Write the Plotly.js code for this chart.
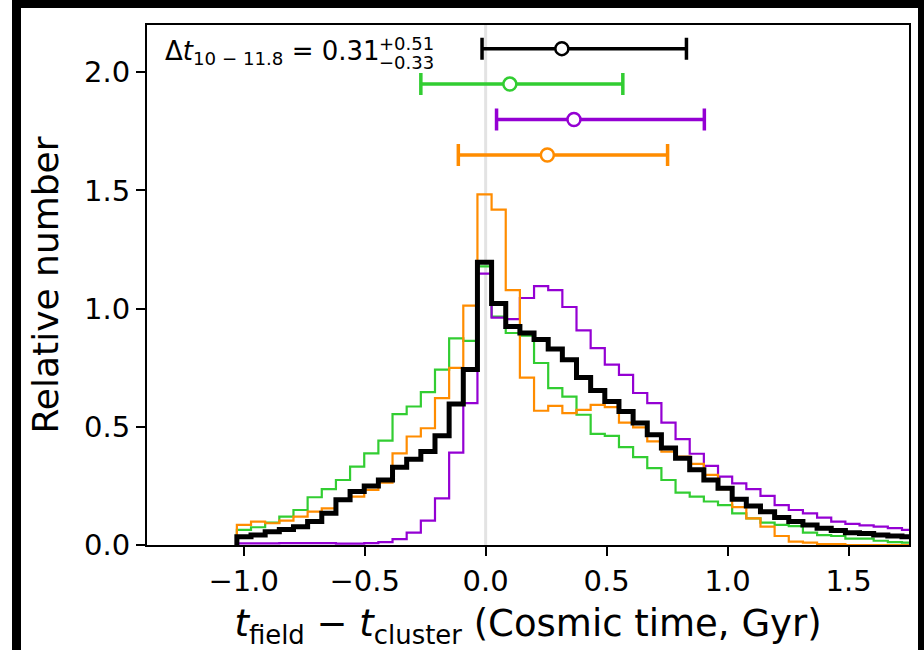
<!DOCTYPE html>
<html>
<head>
<meta charset="utf-8">
<script src="https://cdn.plot.ly/plotly-3.0.1.min.js"></script>
<style>
  html, body { margin: 0; padding: 0; background: #fff; }
  #chart { position: absolute; left: 0; top: 0; width: 924px; height: 650px; }
  .bar { position: absolute; background: #000; pointer-events: none; }
</style>
</head>
<body>
<div id="chart"></div>
<div class="bar" style="left:12px;top:0;width:912px;height:8px;"></div>
<div class="bar" style="left:12px;top:0;width:9px;height:650px;"></div>
<div class="bar" style="left:918px;top:0;width:6px;height:650px;"></div>
<script>
// Histogram bin edges (Gyr)
const binEdges = [-1.0285,-0.9700,-0.9115,-0.8530,-0.7945,-0.7360,-0.6775,-0.6190,-0.5605,-0.5020,
  -0.4435,-0.3850,-0.3265,-0.2680,-0.2095,-0.1510,-0.0925,-0.0340,0.0245,0.0830,
  0.1415,0.2000,0.2585,0.3170,0.3755,0.4340,0.4925,0.5510,0.6095,0.6680,
  0.7265,0.7850,0.8435,0.9020,0.9605,1.0190,1.0775,1.1360,1.1945,1.2530,
  1.3115,1.3700,1.4285,1.4870,1.5455,1.6040,1.6625,1.7210,1.7795];

// Relative number per bin, one array per sample
const histBlack = [0.035,0.042,0.056,0.066,0.077,0.099,0.134,0.191,0.226,0.250,0.275,0.329,0.363,0.396,0.462,0.597,0.742,
  1.196,1.022,0.924,0.897,0.869,0.829,0.784,0.709,0.654,0.607,0.565,0.516,0.466,0.410,0.367,0.318,0.275,0.240,0.194,0.165,0.141,0.116,0.099,0.085,0.071,0.061,0.052,0.049,0.042,0.038,0.035];
const histGreen = [0.064,0.075,0.095,0.120,0.148,0.202,0.236,0.275,0.332,0.388,0.442,0.554,0.586,0.647,0.742,0.874,0.864,
  1.179,0.966,0.897,0.886,0.770,0.664,0.628,0.551,0.470,0.462,0.414,0.372,0.325,0.275,0.222,0.205,0.184,0.169,0.134,0.113,0.095,0.085,0.080,0.052,0.042,0.038,0.027,0.027,0.018,0.012,0.010];
const histPurple = [0.007,0.007,0.007,0.008,0.008,0.008,0.008,0.006,0.006,0.008,0.012,0.025,0.052,0.103,0.197,0.391,0.600,
  1.148,0.962,0.956,1.045,1.095,1.078,1.007,0.908,0.833,0.763,0.720,0.643,0.600,0.518,0.448,0.386,0.335,0.289,0.261,0.236,0.208,0.169,0.148,0.134,0.116,0.099,0.089,0.083,0.078,0.071,0.064];
const histOrange = [0.085,0.099,0.092,0.103,0.120,0.141,0.155,0.188,0.205,0.233,0.264,0.388,0.459,0.494,0.621,0.749,1.013,
  1.483,1.419,1.078,0.708,0.568,0.589,0.558,0.572,0.593,0.583,0.518,0.498,0.438,0.395,0.374,0.343,0.297,0.236,0.160,0.113,0.078,0.038,0.014,0.010,0.004,0.004,0,0,0,0,0];

// Error-bar summaries: median and asymmetric range
const errNames   = ['black','green','purple','orange'];
const errCenter  = [0.315, 0.100, 0.365, 0.255];
const errPlus    = [0.515, 0.467, 0.539, 0.497];
const errMinus   = [0.330, 0.368, 0.320, 0.368];
const errLevel   = [2.10, 1.95, 1.80, 1.65];

const colors = { black: '#000000', green: '#32cd32', purple: '#9400d3', orange: '#ff8c00' };

function stepTrace(vals, color, width) {
  const xs = [binEdges[0]], ys = [0];
  for (let i = 0; i < vals.length; i++) { xs.push(binEdges[i]); ys.push(vals[i]); }
  xs.push(binEdges[vals.length]); ys.push(vals[vals.length - 1]);
  xs.push(binEdges[vals.length]); ys.push(0);
  return { x: xs, y: ys, type: 'scatter', mode: 'lines', line: { shape: 'hv', color: color, width: width },
           hoverinfo: 'skip', showlegend: false };
}

const traces = [
  stepTrace(histGreen, colors.green, 2.2),
  stepTrace(histPurple, colors.purple, 2.2),
  stepTrace(histOrange, colors.orange, 2.2),
  stepTrace(histBlack, colors.black, 5)
];

for (let i = 0; i < errNames.length; i++) {
  const c = colors[errNames[i]];
  traces.push({
    x: [errCenter[i]], y: [errLevel[i]], type: 'scatter', mode: 'markers',
    marker: { symbol: 'circle', size: 13, color: '#ffffff', line: { color: c, width: 2.5 } },
    error_x: { type: 'data', symmetric: false, array: [errPlus[i]], arrayminus: [errMinus[i]],
               color: c, thickness: 3.5, width: 11 },
    showlegend: false, hoverinfo: 'skip', cliponaxis: false
  });
}

const font = 'DejaVu Sans, sans-serif';
const layout = {
  width: 924, height: 650,
  margin: { l: 147, r: 15, t: 25, b: 105, pad: 0 },
  paper_bgcolor: '#ffffff', plot_bgcolor: '#ffffff',
  font: { family: font, color: '#000000' },
  showlegend: false,
  xaxis: {
    range: [-1.4, 1.75], tick0: 0, dtick: 0.5, tickformat: '.1f',
    showgrid: false, zeroline: false, showline: true, linecolor: '#000', linewidth: 2, mirror: true,
    ticks: 'outside', ticklen: 9, tickwidth: 2, tickcolor: '#000',
    tickfont: { family: font, size: 29, color: '#000' },
    title: { text: '<i>t</i><sub>field</sub> − <i>t</i><sub>cluster</sub> (Cosmic time, Gyr)',
             font: { family: font, size: 37, color: '#000' }, standoff: 14 }
  },
  yaxis: {
    range: [0, 2.2], tick0: 0, dtick: 0.5, tickformat: '.1f',
    showgrid: false, zeroline: false, showline: true, linecolor: '#000', linewidth: 2, mirror: true,
    ticks: 'outside', ticklen: 9, tickwidth: 2, tickcolor: '#000',
    tickfont: { family: font, size: 29, color: '#000' },
    title: { text: 'Relative number', font: { family: font, size: 36, color: '#000' }, standoff: 14 }
  },
  shapes: [{ type: 'line', xref: 'x', yref: 'paper', x0: 0, x1: 0, y0: 0, y1: 1,
             line: { color: '#e3e3e3', width: 3 }, layer: 'below' }],
  annotations: [
    { xref: 'x', yref: 'y', x: -1.335, y: 2.085, xanchor: 'left', yanchor: 'middle', showarrow: false,
      text: 'Δ<i>t</i><sub>10 − 11.8</sub> = 0.31', font: { family: font, size: 26, color: '#000' } },
    { xref: 'x', yref: 'y', x: -0.448, y: 2.12, xanchor: 'left', yanchor: 'middle', showarrow: false,
      text: '+0.51', font: { family: font, size: 18, color: '#000' } },
    { xref: 'x', yref: 'y', x: -0.448, y: 2.043, xanchor: 'left', yanchor: 'middle', showarrow: false,
      text: '−0.33', font: { family: font, size: 18, color: '#000' } }
  ]
};

Plotly.newPlot('chart', traces, layout, { displayModeBar: false, staticPlot: true });
</script>
</body>
</html>
